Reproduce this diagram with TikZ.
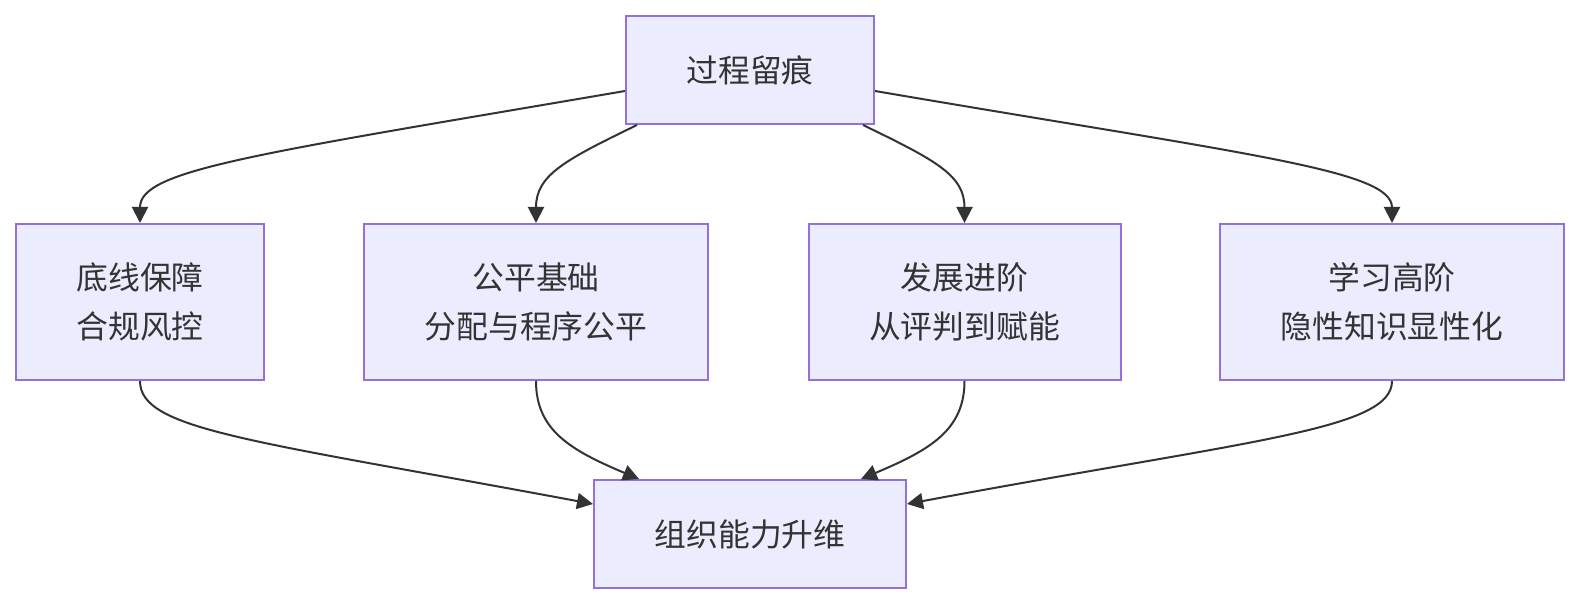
\documentclass[tikz,border=0pt]{standalone}
\usepackage{fontspec}
\newfontfamily\cjk{Noto Sans CJK SC}
\usetikzlibrary{arrows.meta,calc}
\definecolor{nodefill}{HTML}{ECECFF}
\definecolor{nodeborder}{HTML}{9370DB}
\definecolor{txt}{HTML}{333333}
\begin{document}
\begin{tikzpicture}[x=0.5pt,y=-0.5pt,
  box/.style={draw=nodeborder,fill=nodefill,line width=1pt,text=txt,font=\cjk\fontsize{15.9}{24.5}\selectfont,align=center,inner sep=0pt},
  edge/.style={draw=txt,line width=1pt,-{Triangle[length=8pt,width=8pt]}}]
\useasboundingbox (0,0) rectangle (1580,604);
\node[box,minimum width=124pt,minimum height=54pt] (top) at (750,70) {过程留痕};
\node[box,minimum width=124pt,minimum height=78pt] (a) at (140,302) {底线保障\\合规风控};
\node[box,minimum width=172pt,minimum height=78pt] (b) at (536,302) {公平基础\\分配与程序公平};
\node[box,minimum width=156pt,minimum height=78pt] (c) at (964.5,302) {发展进阶\\从评判到赋能};
\node[box,minimum width=172pt,minimum height=78pt] (d) at (1392,302) {学习高阶\\隐性知识显性化};
\node[box,minimum width=156pt,minimum height=54pt] (bot) at (750,534) {组织能力升维};
\draw[edge] ($(top.west)+(0,21)$) .. controls (250,155) and (140,170) .. (a.north);
\draw[edge] ($(top.south west)+(12,0)$) .. controls (565,160) and (536,175) .. (b.north);
\draw[edge] ($(top.south east)+(-12,0)$) .. controls (935,160) and (964.5,175) .. (c.north);
\draw[edge] ($(top.east)+(0,21)$) .. controls (1250,155) and (1392,170) .. (d.north);
\draw[edge] (a.south) .. controls (140,430) and (250,440) .. ($(bot.west)+(0,-30)$);
\draw[edge] (b.south) .. controls (536,430) and (570,450) .. ($(bot.north west)+(46,0)$);
\draw[edge] (c.south) .. controls (964.5,430) and (930,450) .. ($(bot.north east)+(-46,0)$);
\draw[edge] (d.south) .. controls (1392,430) and (1250,440) .. ($(bot.east)+(0,-30)$);
\end{tikzpicture}
\end{document}
